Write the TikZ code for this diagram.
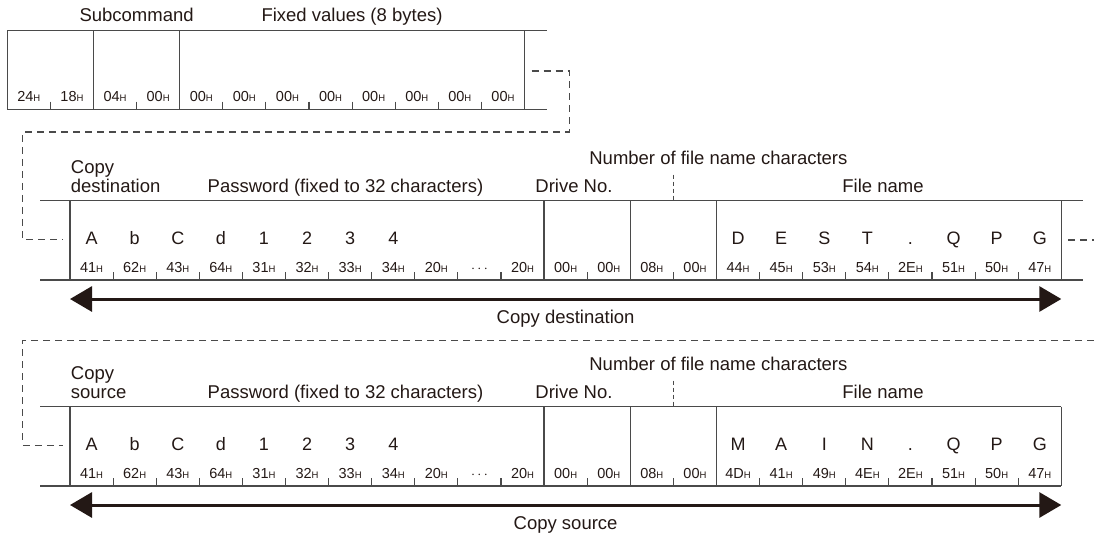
\documentclass[tikz,border=0pt]{standalone}
\usepackage{fontspec}
\setmainfont{Liberation Sans}
\usetikzlibrary{arrows.meta}
\definecolor{txt}{HTML}{231815}
\definecolor{ln}{HTML}{4A4A4A}
\newcommand\hx[1]{#1{\fontsize{9.5}{10}\selectfont H}}
\newcommand\fsec[6]{%
\begin{scope}[yshift=-#2pt]
\node[lbl,anchor=base west] (#1copy) at (70.7,173.3) {Copy};
\node[lbl,anchor=base west] (#1role) at (70.7,192.7) {#3};
\node[lbl] (#1pw) at (345.5,192.7) {Password (fixed to 32 characters)};
\node[lbl] (#1drv) at (574,192.7) {Drive No.};
\node[lbl] (#1num) at (718.4,164) {Number of file name characters};
\node[lbl] (#1fn) at (883,192.7) {File name};
\coordinate (#1nt) at (673.4,174.5);
\coordinate (#1nb) at (673.4,200.7);
\draw[shortdash] (#1nt) -- (#1nb);
\draw[boxline] (40,200.7) -- (1061.3,200.7) (40,280) -- (1061.3,280);
\foreach \k in {0,11,13,15,23} \draw[boxline] ({70+\k*43.1},200.7) -- ({70+\k*43.1},280);
\foreach \k in {1,2,3,4,5,6,7,8,9,10,12,14,16,17,18,19,20,21,22}
  \draw[tickline] ({70+\k*43.1},272.4) -- ({70+\k*43.1},280);
\foreach \v [count=\i from 0] in {41,62,43,64,31,32,33,34,20,X,20,00,00,08,00}{%
  \ifnum\i=9
    \node[hex] (#1h\i) at ({70+(\i+0.5)*43.1},272.7) {$\cdots$};
  \else
    \node[hex] (#1h\i) at ({70+(\i+0.5)*43.1},272.7) {\hx{\v}};
  \fi}
\foreach \v [count=\i from 15] in {#4}
  \node[hex] (#1h\i) at ({70+(\i+0.5)*43.1},272.7) {\hx{\v}};
\foreach \v [count=\i from 0] in {A,b,C,d,1,2,3,4}
  \node[chr] (#1c\i) at ({70+(\i+0.5)*43.1},244.3) {\v};
\foreach \v [count=\i from 15] in {#5}
  \node[chr] (#1c\i) at ({70+(\i+0.5)*43.1},244.3) {\v};
\coordinate (#1al) at (70,299);
\coordinate (#1ar) at (1061.3,299);
\draw[bigarrow] (#1al) -- (#1ar);
\node[lbl] (#1alab) at (565.6,323) {#6};
\end{scope}}
\begin{document}
\begin{tikzpicture}[x=1pt,y=-1pt,
  lbl/.style={inner sep=0pt, text=txt, font=\fontsize{18.5}{22}\selectfont, anchor=base},
  chr/.style={inner sep=0pt, text=txt, font=\fontsize{18}{22}\selectfont, anchor=base},
  hex/.style={inner sep=0pt, text=txt, font=\fontsize{14.5}{17}\selectfont, anchor=base},
  boxline/.style={draw=ln, line width=1.3pt},
  tickline/.style={draw=ln, line width=1.1pt},
  link/.style={draw=ln, line width=1.2pt, dash pattern=on 7pt off 5pt},
  shortdash/.style={draw=ln, line width=1.2pt, dash pattern=on 4pt off 3pt},
  bigarrow/.style={draw=txt, line width=3pt, {Triangle[length=22pt,width=25pt]}-{Triangle[length=22pt,width=25pt]}},
]
\useasboundingbox (0,0) rectangle (1094,533);
% top section
\node[lbl] (sub) at (136.6,21.7) {Subcommand};
\node[lbl] (fix) at (352,21.7) {Fixed values (8 bytes)};
\draw[boxline] (7.3,30.7) -- (546.7,30.7) (7.3,109.3) -- (546.7,109.3);
\foreach \k in {0,2,4,12} \draw[boxline] ({7.3+\k*43.1},30.7) -- ({7.3+\k*43.1},109.3);
\foreach \k in {1,3,5,6,7,8,9,10,11}
  \draw[tickline] ({7.3+\k*43.1},101.7) -- ({7.3+\k*43.1},109.3);
\foreach \v [count=\i from 0] in {24,18,04,00,00,00,00,00,00,00,00,00}
  \node[hex] (th\i) at ({7.3+(\i+0.5)*43.1},101.7) {\hx{\v}};
% link top -> middle
\coordinate (l1a) at (531.7,71);
\coordinate (l1b) at (569.3,71);
\coordinate (l1c) at (569.3,132);
\coordinate (l1d) at (22.7,132);
\coordinate (l1e) at (22.7,239.3);
\coordinate (l1f) at (63.3,239.3);
\draw[link] (l1a) -- (l1b) -- (l1c) -- (l1d) -- (l1e) -- (l1f);
% middle section
\fsec{m}{0}{destination}{44,45,53,54,2E,51,50,47}{D,E,S,T,.,Q,P,G}{Copy destination}
\draw[boxline] (1061.3,200.7) -- (1083.3,200.7) (1061.3,280) -- (1083.3,280);
% link middle -> bottom
\coordinate (l2a) at (1068,240);
\coordinate (l2b) at (1094,240);
\draw[link] (l2a) -- (l2b);
\coordinate (l3a) at (1094,340.7);
\coordinate (l3b) at (22.7,340.7);
\coordinate (l3c) at (22.7,445.3);
\coordinate (l3d) at (63.3,445.3);
\draw[link] (l3a) -- (l3b) -- (l3c) -- (l3d);
% bottom section
\fsec{s}{206}{source}{4D,41,49,4E,2E,51,50,47}{M,A,I,N,.,Q,P,G}{Copy source}
\end{tikzpicture}
\end{document}
